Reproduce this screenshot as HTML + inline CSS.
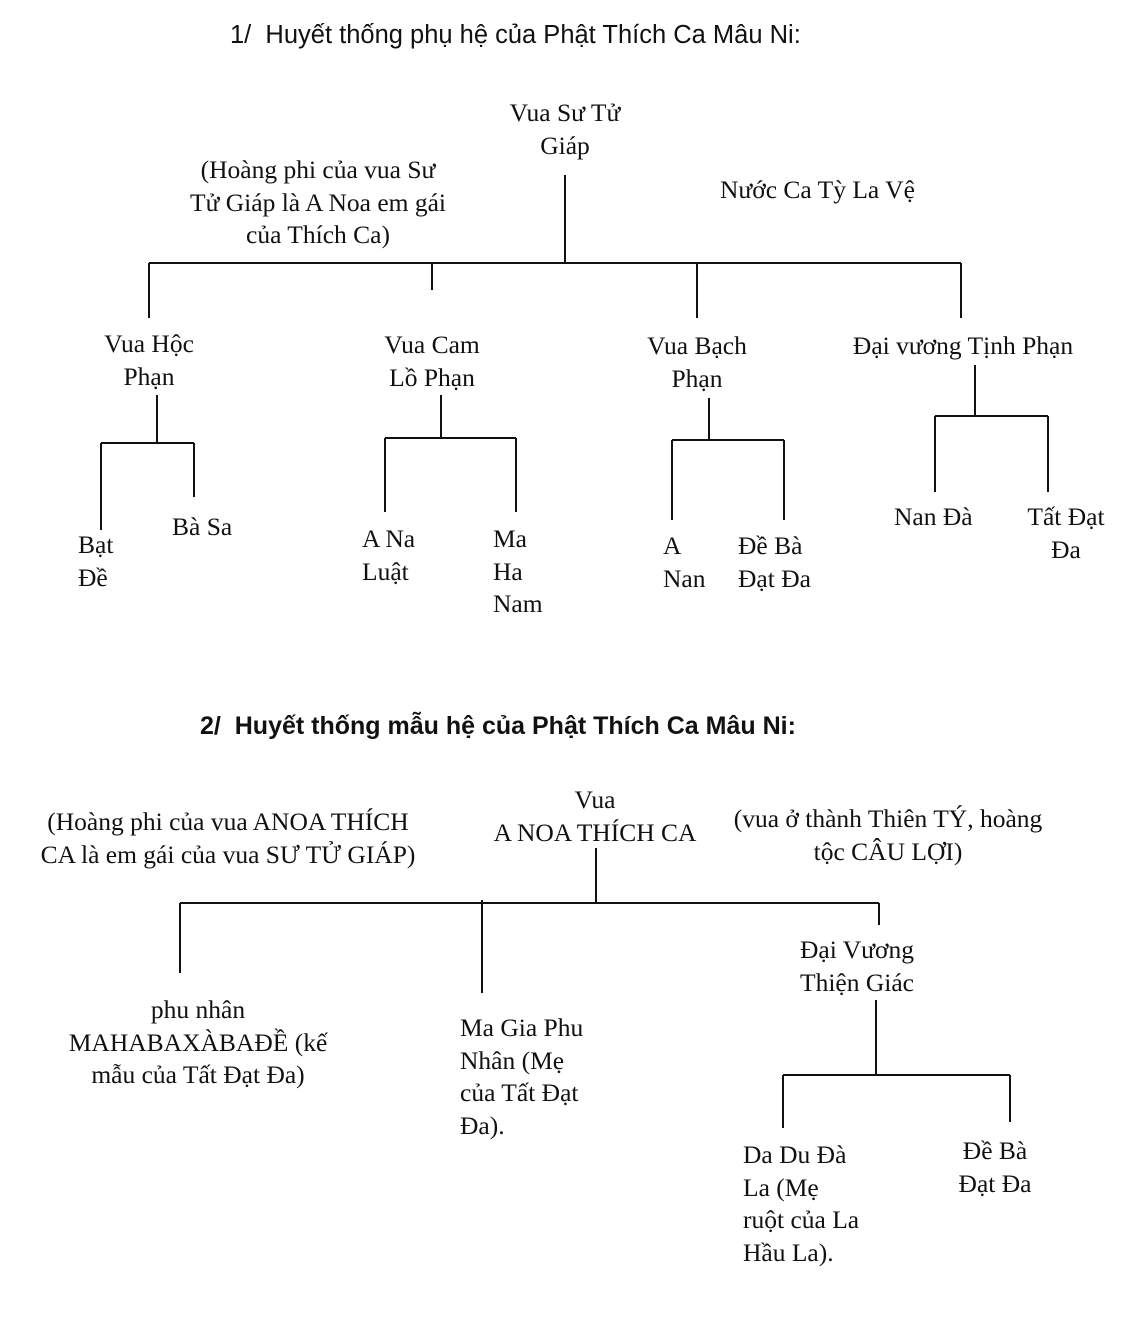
<!DOCTYPE html>
<html><head><meta charset="utf-8"><style>
body{margin:0;width:1131px;height:1320px;background:#fff;position:relative;overflow:hidden;font-family:"Liberation Serif",serif;font-size:25.5px;color:#111}
.t{position:absolute;line-height:32.5px;white-space:nowrap}
.c{transform:translateX(-50%);text-align:center}
.h{position:absolute;font-family:"Liberation Sans",sans-serif;font-size:25.5px;white-space:nowrap}
svg{position:absolute;left:0;top:0}
</style></head><body>
<svg width="1131" height="1320" stroke="#111" stroke-width="2" fill="none">
<path d="M565 175V263M149 263H961M149 263V318M432 263V290M697 263V318M961 263V318"/>
<path d="M157 395V443M101 443H194M101 443V530M194 443V497"/>
<path d="M441 395V438M385 438H516M385 438V512M516 438V512"/>
<path d="M709 398V440M672 440H784M672 440V520M784 440V520"/>
<path d="M975 365V416M935 416H1048M935 416V492M1048 416V492"/>
<path d="M596 848V903M180 903H879M180 903V973M482 900V993M879 903V925"/>
<path d="M876 1000V1075M783 1075H1010M783 1075V1128M1010 1075V1122"/>
</svg>
<div class="h" style="left:230px;top:21px">1/&nbsp; Huyết thống phụ hệ của Phật Thích Ca Mâu Ni:</div>
<div class="t c" style="left:565px;top:97px">Vua Sư Tử<br>Giáp</div>
<div class="t c" style="left:318px;top:154px">(Hoàng phi của vua Sư<br>Tử Giáp là A Noa em gái<br>của Thích Ca)</div>
<div class="t" style="left:720px;top:174px">Nước Ca Tỳ La Vệ</div>
<div class="t c" style="left:149px;top:328px">Vua Hộc<br>Phạn</div>
<div class="t c" style="left:432px;top:329px">Vua Cam<br>Lồ Phạn</div>
<div class="t c" style="left:697px;top:330px">Vua Bạch<br>Phạn</div>
<div class="t c" style="left:963px;top:330px">Đại vương Tịnh Phạn</div>
<div class="t" style="left:78px;top:529px">Bạt<br>Đề</div>
<div class="t" style="left:172px;top:511px">Bà Sa</div>
<div class="t" style="left:362px;top:523px">A Na<br>Luật</div>
<div class="t" style="left:493px;top:523px">Ma<br>Ha<br>Nam</div>
<div class="t" style="left:663px;top:530px">A<br>Nan</div>
<div class="t" style="left:738px;top:530px">Đề Bà<br>Đạt Đa</div>
<div class="t" style="left:894px;top:501px">Nan Đà</div>
<div class="t c" style="left:1066px;top:501px">Tất Đạt<br>Đa</div>
<div class="h" style="left:200px;top:712px;font-weight:bold;font-size:25px">2/&nbsp; Huyết thống mẫu hệ của Phật Thích Ca Mâu Ni:</div>
<div class="t c" style="left:595px;top:784px">Vua<br>A NOA THÍCH CA</div>
<div class="t c" style="left:228px;top:806px">(Hoàng phi của vua ANOA THÍCH<br>CA là em gái của vua SƯ TỬ GIÁP)</div>
<div class="t c" style="left:888px;top:803px">(vua ở thành Thiên TÝ, hoàng<br>tộc CÂU LỢI)</div>
<div class="t c" style="left:857px;top:934px">Đại Vương<br>Thiện Giác</div>
<div class="t c" style="left:198px;top:994px">phu nhân<br>MAHABAXÀBAĐỀ (kế<br>mẫu của Tất Đạt Đa)</div>
<div class="t" style="left:460px;top:1012px">Ma Gia Phu<br>Nhân (Mẹ<br>của Tất Đạt<br>Đa).</div>
<div class="t" style="left:743px;top:1139px">Da Du Đà<br>La (Mẹ<br>ruột của La<br>Hầu La).</div>
<div class="t c" style="left:995px;top:1135px">Đề Bà<br>Đạt Đa</div>
</body></html>
